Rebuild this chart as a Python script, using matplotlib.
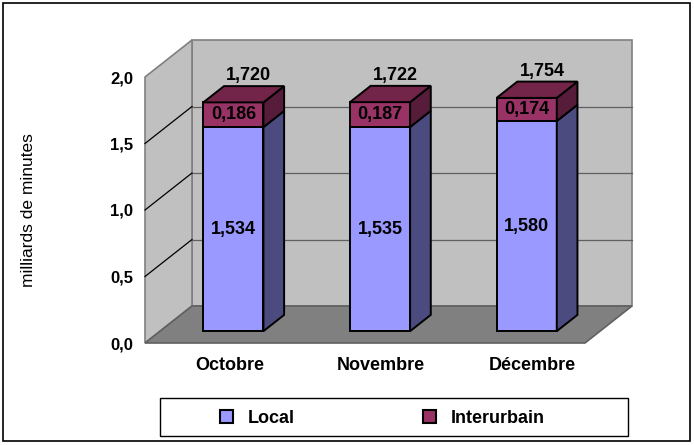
import matplotlib.pyplot as plt
from matplotlib.patches import Polygon, Rectangle, Patch

months = ['Octobre', 'Novembre', 'Décembre']
local = [1.534, 1.535, 1.580]
inter = [0.186, 0.187, 0.174]
totals = [1.720, 1.722, 1.754]
yticks = [0.0, 0.5, 1.0, 1.5, 2.0]

plt.rcParams['font.family'] = ['Liberation Sans', 'DejaVu Sans']

W, H = 694, 445
fig = plt.figure(figsize=(W / 100, H / 100), dpi=100)

# front plane of the 3D box, in pixels
x0p, x1p, y0p, y1p = 145, 585, 343, 77
ax = fig.add_axes([x0p / W, 1 - y0p / H, (x1p - x0p) / W, (y0p - y1p) / H])
ax.set_xlim(0, 3)
ax.set_ylim(0, 2)

# depth of the box, in data units
DX = 47 / ((x1p - x0p) / 3)
DY = 37 / ((y0p - y1p) / 2)


def P(x, y, d):
    return (x + DX * d, y + DY * d)


def poly(pts, fc, ec='black', lw=1.0, z=1):
    ax.add_patch(Polygon(pts, closed=True, facecolor=fc, edgecolor=ec,
                         linewidth=lw, zorder=z, clip_on=False))


# walls and floor
poly([P(0, 0, 1), P(3, 0, 1), P(3, 2, 1), P(0, 2, 1)], '#c0c0c0', '#808080', 1.2)
poly([P(0, 0, 0), P(0, 0, 1), P(0, 2, 1), P(0, 2, 0)], '#c0c0c0', '#808080', 1.2)
poly([P(0, 0, 0), P(3, 0, 0), P(3, 0, 1), P(0, 0, 1)], '#808080', '#606060', 1.2)
for t in yticks[1:-1]:
    ax.plot(*zip(P(0, t, 1), P(3, t, 1)), color='#606060', lw=0.9, zorder=2, clip_on=False)
    ax.plot(*zip(P(0, t, 0), P(0, t, 1)), color='black', lw=0.9, zorder=2, clip_on=False)

# bars
bw = 0.41
d0, d1 = 0.32, 0.76
fs = 13
fmt = lambda v: f"{v:.3f}".replace('.', ',')
for i in range(len(months)):
    xl = i + 0.5 - bw / 2
    xr = i + 0.5 + bw / 2
    segs = [(0, local[i], '#9999ff', '#4b4b80'),
            (local[i], local[i] + inter[i], '#993366', '#561c3a')]
    for yb, yt, fc, sc in segs:
        poly([P(xl, yb, d0), P(xr, yb, d0), P(xr, yt, d0), P(xl, yt, d0)], fc, lw=1.4, z=5)
        poly([P(xr, yb, d0), P(xr, yb, d1), P(xr, yt, d1), P(xr, yt, d0)], sc, lw=1.4, z=5)
    top = local[i] + inter[i]
    poly([P(xl, top, d0), P(xr, top, d0), P(xr, top, d1), P(xl, top, d1)], '#722549', lw=1.4, z=5)

    cx, _ = P(i + 0.5, 0, d0)
    _, ly = P(0, local[i] / 2, d0)
    ax.text(cx, ly, fmt(local[i]), ha='center', va='center', fontsize=fs,
            fontweight='bold', zorder=6)
    _, iy = P(0, local[i] + inter[i] / 2, d0)
    ax.text(cx, iy, fmt(inter[i]), ha='center', va='center', fontsize=fs,
            fontweight='bold', zorder=6)
    tx, ty = P(i + 0.5, totals[i], 0.65)
    ax.annotate(fmt(totals[i]), (tx, ty), xytext=(0, 10.5), textcoords='offset points',
                ha='center', va='center', fontsize=fs, fontweight='bold', zorder=6)
    ax.text(i * 1.03 + 0.58, -0.17, months[i], ha='center', va='center', fontsize=fs,
            fontweight='bold')

ax.set_xticks([])
ax.set_yticks(yticks)
ax.set_yticklabels([f"{t:.1f}".replace('.', ',') for t in yticks], fontsize=12,
                   fontweight='bold')
ax.tick_params(axis='y', length=0, pad=8.5)
for s in ax.spines.values():
    s.set_visible(False)
ax.patch.set_visible(False)
ax.set_ylabel('milliards de minutes', fontsize=12.5, labelpad=53)

# legend box and outer border
fig.patches.append(Rectangle((160 / W, 1 - 436 / H), 468 / W, 38 / H, transform=fig.transFigure,
                             facecolor='white', edgecolor='black', linewidth=1.0))
fig.patches.append(Rectangle((3 / W, 1 - 441 / H), 687 / W, 438 / H, transform=fig.transFigure,
                             facecolor='none', edgecolor='black', linewidth=1.2))
handles = [Patch(facecolor='#9999ff', edgecolor='black', linewidth=1.5, label='Local'),
           Patch(facecolor='#993366', edgecolor='black', linewidth=1.5, label='Interurbain')]
leg = fig.legend(handles=handles, loc='center left', bbox_to_anchor=(211 / W, 1 - 418.5 / H),
                 ncol=2, frameon=False, borderpad=0, handlelength=0.72, handleheight=0.72,
                 handletextpad=0.83, columnspacing=7.1,
                 prop={'weight': 'bold', 'size': fs})

fig.savefig('out.png', dpi=100)
